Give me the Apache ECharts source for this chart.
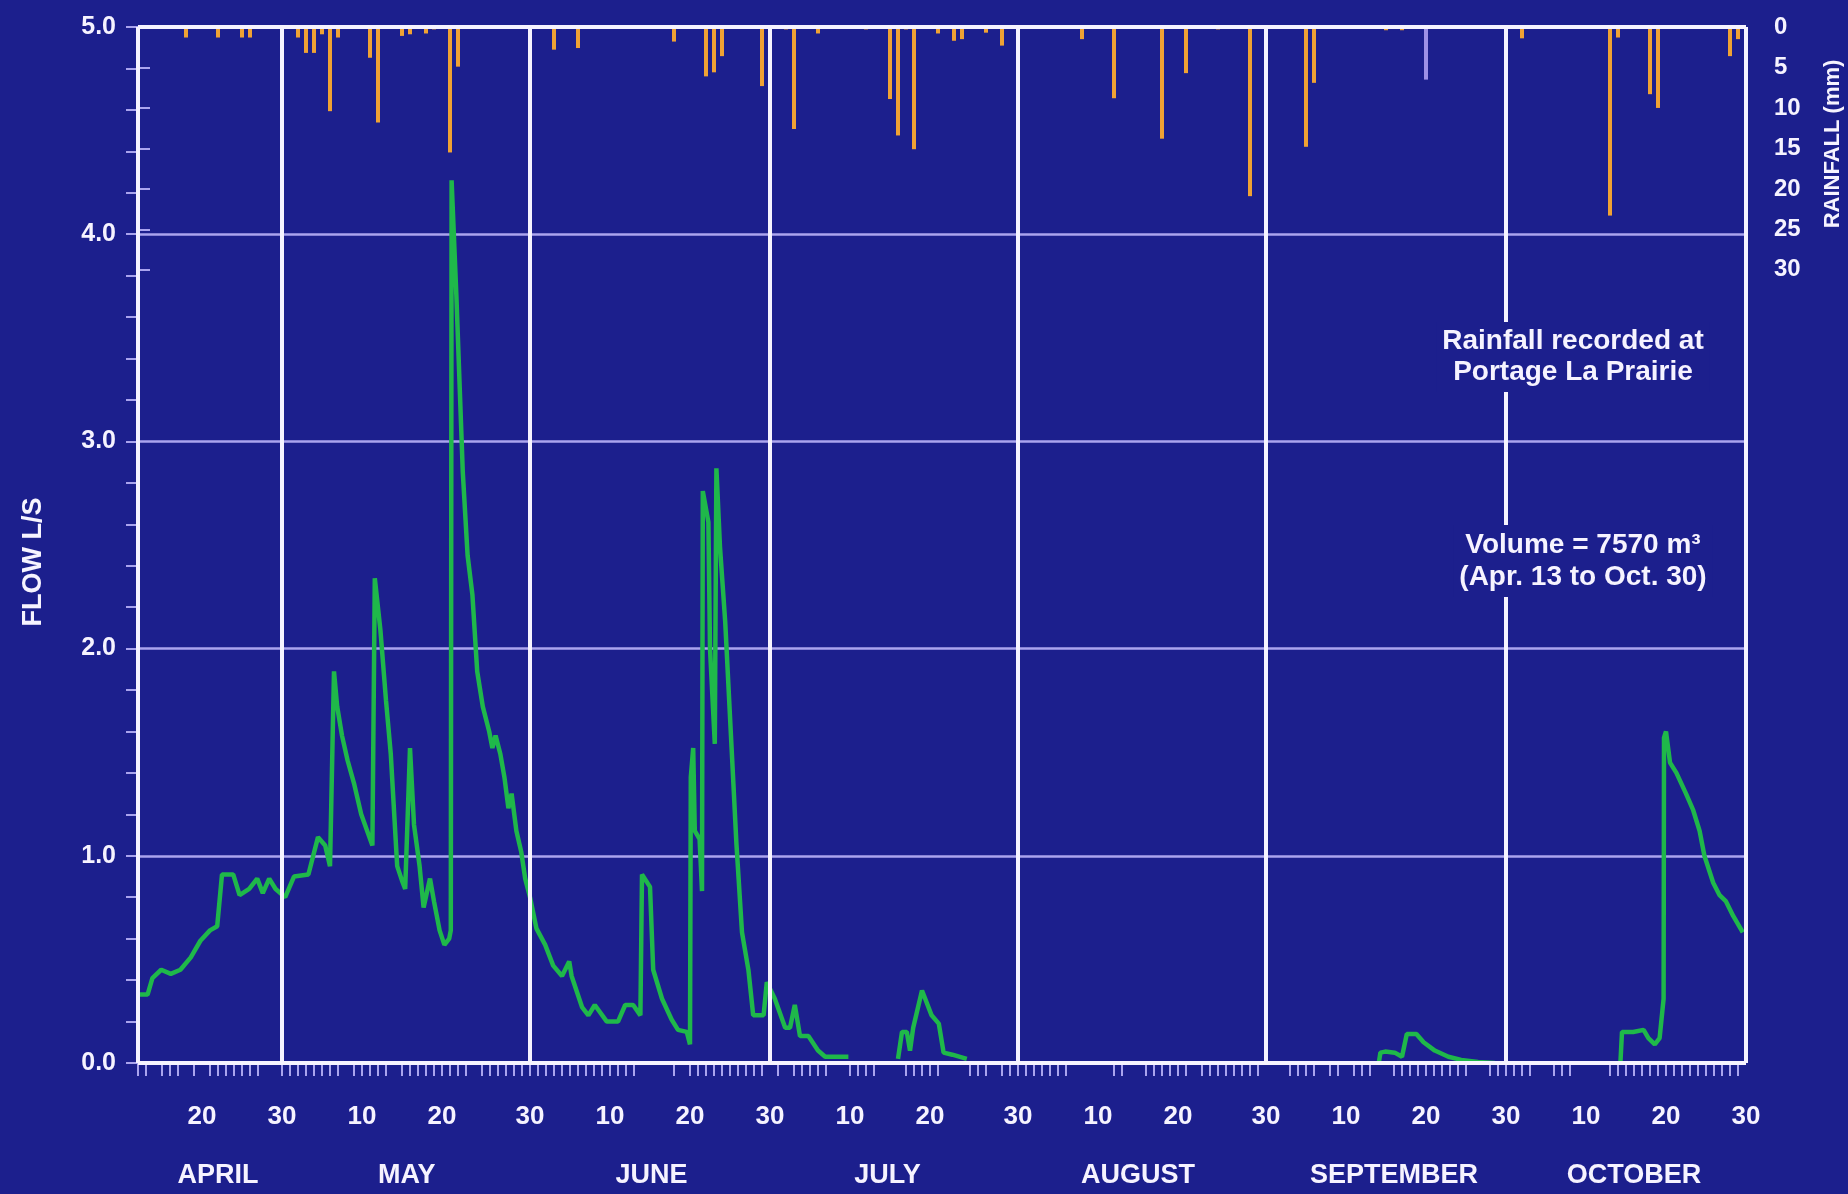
<!DOCTYPE html>
<html>
<head>
<meta charset="utf-8">
<title>Flow L/S and rainfall</title>
<script src="https://cdn.jsdelivr.net/npm/echarts@6/dist/echarts.min.js"></script>
<style>
    html, body { margin: 0; padding: 0; background: #1c1f8d; }
    #main { width: 1848px; height: 1194px; }
</style>
</head>
<body>
<div id="main"></div>
<script>
// day 0 = Apr 12, day 201 = Oct 30
var seasonStart = 0;
var seasonEnd = 201;
var monthEndDays = [18, 49, 79, 110, 141, 171];

// bottom labels (10 / 20 / 30 of each month)
var dayLabelDays = [8, 18, 28, 38, 49, 59, 69, 79, 89, 99, 110, 120, 130, 141, 151, 161, 171, 181, 191, 201];
var dayLabelTexts = ['20', '30', '10', '20', '30', '10', '20', '30', '10', '20', '30', '10', '20', '30', '10', '20', '30', '10', '20', '30'];
var monthNames = ['APRIL', 'MAY', 'JUNE', 'JULY', 'AUGUST', 'SEPTEMBER', 'OCTOBER'];
var monthMidDays = [10, 33.6, 64.2, 93.7, 125, 157, 187];

// small marks under the axis
var recordTickDays = [0, 1, 3, 4, 5, 7, 9, 10, 11, 12, 13, 14, 15,
    18, 19, 20, 21, 22, 23, 24, 25, 27, 28, 29, 30, 31, 33, 34, 35, 36, 37, 38, 39, 40, 41, 43, 44, 45, 46, 47, 48,
    49, 50, 51, 52, 53, 54, 55, 56, 57, 58, 59, 60, 61, 62, 67, 69, 70, 71, 72, 73, 74, 75, 76, 77, 78,
    80, 82, 83, 84, 85, 86, 89, 90, 91, 92, 96, 97, 98, 99, 100, 104, 105, 106, 108, 109, 110, 111, 112, 113, 114, 115, 116,
    122, 123, 126, 127, 128, 129, 130, 131, 133, 134, 135, 136, 137, 138, 139, 140,
    144, 145, 146, 147, 149, 150, 152, 153, 154, 157, 158, 159, 160, 161, 162, 163, 164, 165, 166, 169, 170, 171, 172, 173, 174,
    177, 178, 179, 184, 185, 186, 187, 188, 189, 190, 191, 192, 193, 194, 195, 196, 197, 198, 199, 200];

var flowTicks = [0, 1, 2, 3, 4, 5];
var rainTicks = [0, 5, 10, 15, 20, 25, 30];
var rainAxisMax = 128;

// [day, L/s], null = no record shown
var flowReadings = [
    [0, 0.33], [1.2, 0.33], [1.8, 0.41], [2.9, 0.45], [4.1, 0.43], [5.3, 0.45], [6.6, 0.51], [7.8, 0.59],
    [9.0, 0.64], [9.9, 0.66], [10.5, 0.91], [11.9, 0.91], [12.7, 0.81], [13.9, 0.84], [14.9, 0.89], [15.6, 0.82],
    [16.4, 0.89], [17.2, 0.84], [18.4, 0.80], [19.5, 0.90], [21.3, 0.91], [22.5, 1.09], [23.4, 1.05], [24.0, 0.95],
    [24.5, 1.89], [24.9, 1.72], [25.5, 1.58], [26.2, 1.46], [27.0, 1.35], [27.9, 1.20], [29.3, 1.05], [29.6, 2.34],
    [30.3, 2.09], [31.0, 1.75], [31.6, 1.49], [32.4, 0.95], [33.0, 0.88], [33.4, 0.84], [34.0, 1.52], [34.5, 1.15],
    [35.2, 0.95], [35.7, 0.75], [36.5, 0.89], [37.0, 0.78], [37.7, 0.64], [38.3, 0.57], [38.9, 0.60], [39.1, 0.64],
    [39.2, 4.26], [39.8, 3.70], [40.6, 2.85], [41.2, 2.45], [41.8, 2.26], [42.4, 1.89], [43.1, 1.72], [43.9, 1.60],
    [44.3, 1.52], [44.7, 1.58], [45.3, 1.49], [45.8, 1.38], [46.3, 1.23], [46.7, 1.30], [47.3, 1.12], [47.9, 1.02],
    [48.4, 0.89], [49.0, 0.80], [49.8, 0.65], [50.9, 0.57], [51.9, 0.47], [53.0, 0.42], [53.9, 0.49], [54.2, 0.42],
    [55.5, 0.27], [56.3, 0.23], [57.1, 0.28], [58.6, 0.20], [60.0, 0.20], [60.9, 0.28], [61.9, 0.28], [62.8, 0.23],
    [63.0, 0.91], [64.0, 0.85], [64.4, 0.45], [65.5, 0.31], [66.7, 0.21], [67.5, 0.16], [68.6, 0.15], [69.0, 0.09],
    [69.1, 1.38], [69.4, 1.52], [69.6, 1.12], [70.2, 1.08], [70.5, 0.83], [70.6, 2.76], [71.3, 2.61], [71.5, 2.00],
    [72.1, 1.54], [72.3, 2.87], [72.75, 2.49], [73.4, 2.13], [74.2, 1.52], [74.8, 1.06], [75.5, 0.63], [76.3, 0.45],
    [76.9, 0.23], [78.2, 0.23], [78.6, 0.39], [79.6, 0.31], [80.9, 0.17], [81.5, 0.17], [82.1, 0.28], [82.75, 0.13],
    [83.8, 0.13], [85.0, 0.06], [85.9, 0.03], [88.8, 0.03], [89, null],
    [95.0, 0.02], [95.5, 0.15], [96.1, 0.15], [96.5, 0.06], [96.9, 0.17], [98.0, 0.35], [99.2, 0.23], [100.1, 0.19],
    [100.7, 0.05], [101.8, 0.04], [103.6, 0.02], [104, null],
    [155.1, 0.0], [155.3, 0.05], [155.9, 0.055], [157.1, 0.05], [158.0, 0.03], [158.6, 0.14], [159.8, 0.14], [160.7, 0.10],
    [162.1, 0.06], [163.8, 0.03], [165.4, 0.015], [167.5, 0.005], [169.6, 0.0], [170, null],
    [185.3, 0.0], [185.5, 0.15], [186.9, 0.15], [188.2, 0.16], [188.8, 0.12], [189.6, 0.09], [190.2, 0.12], [190.7, 0.31],
    [190.75, 1.57], [191.0, 1.60], [191.5, 1.45], [192.3, 1.40], [193.5, 1.30], [194.4, 1.22], [195.2, 1.12], [195.8, 1.00],
    [196.9, 0.87], [197.7, 0.81], [198.5, 0.78], [199.4, 0.71], [200.6, 0.63]
];

// [day, mm] at Portage La Prairie
var rainReadings = [
    [6, 1.3], [10, 1.3], [13, 1.3], [14, 1.3],
    [20, 1.3], [21, 3.2], [22, 3.2], [23, 0.9], [24, 10.4], [25, 1.3], [29, 3.8], [30, 11.8], [33, 1.1], [34, 0.9],
    [36, 0.8], [37, 0.3], [39, 15.5], [40, 4.9],
    [52, 2.8], [55, 2.6], [67, 1.8], [71, 6.1], [72, 5.6], [73, 3.6], [78, 7.3],
    [81, 0.3], [82, 12.6], [85, 0.8], [91, 0.3], [94, 8.9], [95, 13.4], [96, 0.3], [97, 15.1], [100, 0.8],
    [102, 1.7], [103, 1.5], [106, 0.7], [108, 2.3],
    [118, 1.5], [122, 8.8], [128, 13.8], [131, 5.7], [135, 0.3], [139, 20.9],
    [146, 14.8], [147, 6.9], [156, 0.4], [158, 0.4], [161, 6.5],
    [173, 1.4], [184, 23.3], [185, 1.3], [189, 8.3], [190, 10.0], [199, 3.6], [200, 1.5]
];
var faintRainDays = [161];

var bgColor = '#1c1f8d';
var white = '#f6f3ff';
var lavender = '#aaa4ee';
var labelFont = 'Liberation Sans';

function buildFlowData() {
    return flowReadings.map(function (p) {
        return [p[0], p[1] === null ? '-' : p[1]];
    });
}

function buildRainData() {
    return rainReadings.map(function (p) {
        if (faintRainDays.indexOf(p[0]) >= 0) {
            return {value: p, itemStyle: {color: '#9d90e6'}};
        }
        return p;
    });
}

// white frame + month separators
function buildFrameLines() {
    var lines = [{xAxis: seasonStart}, {xAxis: seasonEnd}, {yAxis: 0}, {yAxis: rainAxisMax}];
    monthEndDays.forEach(function (d) {
        lines.push({xAxis: d});
    });
    return lines;
}

function drawChart(domId) {
    var chart = echarts.init(document.getElementById(domId));
    var option = {
        animation: false,
        backgroundColor: bgColor,
        grid: {left: 138, right: 102, top: 27, bottom: 131},
        xAxis: [
            {
                type: 'value',
                min: seasonStart,
                max: seasonEnd,
                axisLine: {show: false},
                splitLine: {show: false},
                axisTick: {
                    show: true,
                    customValues: recordTickDays,
                    length: 13,
                    lineStyle: {color: lavender, width: 2}
                },
                axisLabel: {
                    customValues: dayLabelDays,
                    margin: 41,
                    color: white,
                    fontFamily: labelFont,
                    fontWeight: 'bold',
                    fontSize: 26,
                    formatter: function (v) {
                        var i = dayLabelDays.indexOf(v);
                        return i >= 0 ? dayLabelTexts[i] : '';
                    }
                }
            },
            {
                type: 'value',
                position: 'bottom',
                min: seasonStart,
                max: seasonEnd,
                axisLine: {show: false},
                axisTick: {show: false},
                splitLine: {show: false},
                axisLabel: {
                    customValues: monthMidDays,
                    margin: 99,
                    color: white,
                    fontFamily: labelFont,
                    fontWeight: 'bold',
                    fontSize: 27,
                    formatter: function (v) {
                        var i = monthMidDays.indexOf(v);
                        return i >= 0 ? monthNames[i] : '';
                    }
                }
            }
        ],
        yAxis: [
            {
                type: 'value',
                min: 0,
                max: 5,
                interval: 1,
                axisLine: {show: false},
                axisTick: {show: true, length: 12, lineStyle: {color: lavender, width: 2}},
                minorTick: {show: true, splitNumber: 5, length: 12, lineStyle: {color: lavender, width: 2}},
                splitLine: {show: true, lineStyle: {color: lavender, width: 2.5}},
                axisLabel: {
                    margin: 22,
                    color: white,
                    fontFamily: labelFont,
                    fontWeight: 'bold',
                    fontSize: 25,
                    formatter: function (v) { return v.toFixed(1); }
                }
            },
            {
                type: 'value',
                position: 'right',
                inverse: true,
                min: 0,
                max: rainAxisMax,
                axisLine: {show: false},
                splitLine: {show: false},
                axisTick: {show: true, customValues: rainTicks, length: 12, lineStyle: {color: lavender, width: 2}},
                axisLabel: {
                    customValues: rainTicks,
                    margin: 28,
                    color: white,
                    fontFamily: labelFont,
                    fontWeight: 'bold',
                    fontSize: 24
                }
            }
        ],
        series: [
            {
                name: 'Rainfall',
                type: 'bar',
                xAxisIndex: 0,
                yAxisIndex: 1,
                barWidth: 4,
                z: 2,
                itemStyle: {color: '#f0a234'},
                data: buildRainData(),
                markLine: {
                    silent: true,
                    symbol: ['none', 'none'],
                    label: {show: false},
                    lineStyle: {color: white, width: 4, type: 'solid'},
                    data: buildFrameLines()
                }
            },
            {
                name: 'Flow',
                type: 'line',
                xAxisIndex: 0,
                yAxisIndex: 0,
                z: 4,
                showSymbol: false,
                connectNulls: false,
                lineStyle: {color: '#1fb84a', width: 4.5},
                data: buildFlowData()
            }
        ],
        graphic: [
            {
                type: 'text', x: 34, y: 562, rotation: Math.PI / 2, z: 100,
                style: {text: 'FLOW L/S', fill: white, font: 'bold 27px "Liberation Sans"', align: 'center', verticalAlign: 'middle'}
            },
            {
                type: 'text', x: 1833, y: 144, rotation: Math.PI / 2, z: 100,
                style: {text: 'RAINFALL (mm)', fill: white, font: 'bold 22px "Liberation Sans"', align: 'center', verticalAlign: 'middle'}
            },
            {
                type: 'text', x: 1573, y: 357, z: 100,
                style: {
                    text: 'Rainfall recorded at\nPortage La Prairie', fill: white,
                    font: 'bold 28px "Liberation Sans"', lineHeight: 31, align: 'center', verticalAlign: 'middle',
                    backgroundColor: bgColor, padding: [4, 6]
                }
            },
            {
                type: 'text', x: 1583, y: 561, z: 100,
                style: {
                    text: 'Volume = 7570 m\u00b3\n(Apr. 13 to Oct. 30)', fill: white,
                    font: 'bold 28px "Liberation Sans"', lineHeight: 32, align: 'center', verticalAlign: 'middle',
                    backgroundColor: bgColor, padding: [4, 6]
                }
            }
        ]
    };
    chart.setOption(option);
}

drawChart('main');
</script>
</body>
</html>
